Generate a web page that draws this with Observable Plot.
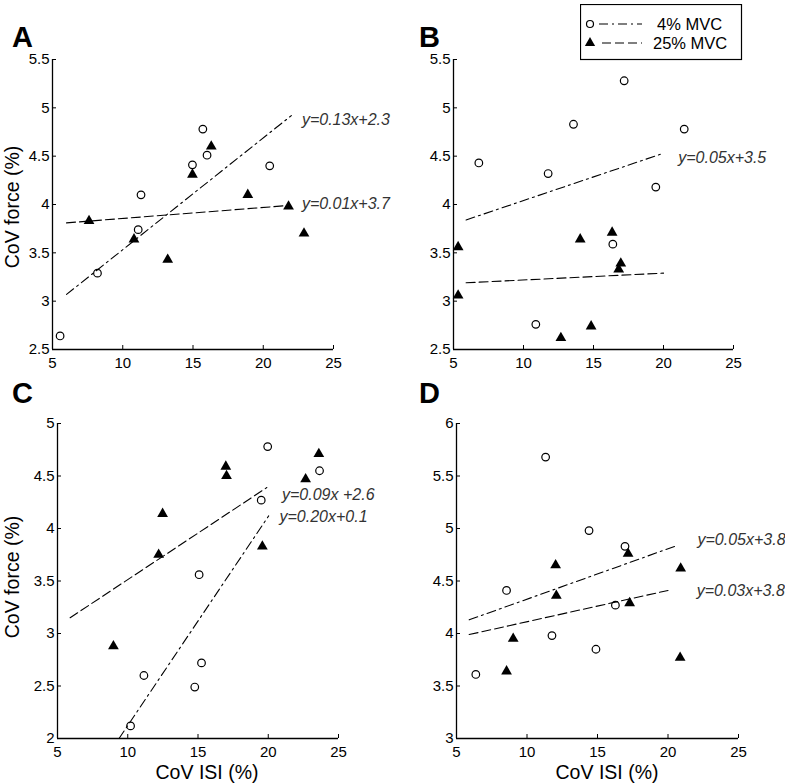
<!DOCTYPE html>
<html>
<head>
<meta charset="utf-8">
<script src="https://cdn.jsdelivr.net/npm/d3@7"></script>
<script src="https://cdn.jsdelivr.net/npm/@observablehq/plot@0.6"></script>
<style>
  body { margin: 0; background: #fff; }
  #fig { position: relative; width: 785px; height: 783px; font-family: "Liberation Sans", Arial, sans-serif; color: #000; overflow: hidden; }
  .panel { position: absolute; }
  .panel g[aria-label$="tick label"], .panel g[aria-label$="tick label"] text { font-size: 15px !important; font-family: "Liberation Sans", Arial, sans-serif !important; }
  .letter { position: absolute; font-weight: bold; font-size: 29px; line-height: 1; }
  .ylab, .xlab { position: absolute; font-size: 19.5px; white-space: nowrap; line-height: 1.15; }
  .ylab { transform: translate(-50%, -50%) rotate(-90deg); }
  .xlab { transform: translate(-50%, -50%); }
  #legend { position: absolute; left: 580px; top: 4px; }
</style>
</head>
<body>
<div id="fig"></div>
<script>
// ---------- data ----------
const seriesNames = ["4% MVC", "25% MVC"];
const panelLetters = ["A", "B", "C", "D"];
const xTicks = [5, 10, 15, 20, 25];
const yTicksAB = [2.5, 3, 3.5, 4, 4.5, 5, 5.5];
const yTicksC = [2, 2.5, 3, 3.5, 4, 4.5, 5];
const yTicksD = [3, 3.5, 4, 4.5, 5, 5.5, 6];
const yTitle = "CoV force (%)";
const xTitle = "CoV ISI (%)";

// Panel A
const A_mvc4_x = [5.54, 8.2, 11.1, 11.3, 14.96, 15.7, 16.0, 20.46];
const A_mvc4_y = [2.64, 3.29, 3.74, 4.10, 4.41, 4.78, 4.51, 4.40];
const A_mvc25_x = [7.6, 10.8, 13.2, 14.96, 16.3, 18.9, 21.8, 22.9];
const A_mvc25_y = [3.83, 3.64, 3.43, 4.31, 4.60, 4.10, 3.98, 3.70];
const A_fit4_x = [6, 22], A_fit4_y = [3.07, 4.92];
const A_fit25_x = [6, 21.8], A_fit25_y = [3.81, 3.99];
const A_eq_text = ["y=0.13x+2.3", "y=0.01x+3.7"];
const A_eq_x = [22.75, 22.75], A_eq_y = [4.88, 4.01];

// Panel B
const B_mvc4_x = [6.81, 11.76, 13.57, 17.19, 21.48, 19.45, 16.38, 10.88];
const B_mvc4_y = [4.43, 4.32, 4.83, 5.28, 4.78, 4.18, 3.59, 2.76];
const B_mvc25_x = [5.33, 5.33, 14.05, 16.33, 16.95, 16.8, 12.67, 14.83];
const B_mvc25_y = [3.56, 3.06, 3.64, 3.71, 3.39, 3.33, 2.62, 2.74];
const B_fit4_x = [5.9, 20], B_fit4_y = [3.84, 4.53];
const B_fit25_x = [5.9, 20], B_fit25_y = [3.19, 3.29];
const B_eq_text = ["y=0.05x+3.5"];
const B_eq_x = [21.05], B_eq_y = [4.48];

// Panel C
const C_mvc4_x = [19.96, 23.65, 19.5, 15.08, 15.25, 14.77, 11.15, 10.2];
const C_mvc4_y = [4.78, 4.55, 4.27, 3.56, 2.72, 2.49, 2.60, 2.12];
const C_mvc25_x = [8.98, 12.2, 12.48, 16.98, 17.03, 19.58, 22.66, 23.6];
const C_mvc25_y = [2.88, 3.75, 4.14, 4.59, 4.50, 3.83, 4.47, 4.71];
const C_fit4_x = [9.38, 20.03], C_fit4_y = [2.0, 4.12];
const C_fit25_x = [5.9, 19.9], C_fit25_y = [3.15, 4.39];
const C_eq_text = ["y=0.09x +2.6", "y=0.20x+0.1"];
const C_eq_x = [20.98, 20.8], C_eq_y = [4.32, 4.11];

// Panel D
const D_mvc4_x = [11.32, 14.4, 16.95, 8.55, 16.27, 11.77, 14.89, 6.37];
const D_mvc4_y = [5.68, 4.98, 4.83, 4.41, 4.27, 3.98, 3.85, 3.61];
const D_mvc25_x = [12.03, 17.17, 20.9, 12.08, 17.28, 9.02, 8.55, 20.86];
const D_mvc25_y = [4.65, 4.76, 4.62, 4.36, 4.29, 3.95, 3.64, 3.77];
const D_fit4_x = [5.9, 20.48], D_fit4_y = [4.13, 4.83];
const D_fit25_x = [5.9, 20], D_fit25_y = [3.99, 4.41];
const D_eq_text = ["y=0.05x+3.8", "y=0.03x+3.8"];
const D_eq_x = [22.09, 22.04], D_eq_y = [4.89, 4.41];

// ---------- drawing ----------
const zip = (xs, ys) => xs.map((x, i) => ({x, y: ys[i]}));
const DASHDOT = "9,4,2,4";
const DASHED = "9,4";
const fig = document.getElementById("fig");

function panel(cfg) {
  const {left, top, width, height, mt, mr, mb, ml, yTicks} = cfg;
  const innerW = width - ml - mr, innerH = height - mt - mb;
  const xDomain = [xTicks[0], xTicks[xTicks.length - 1]];
  const yDomain = [yTicks[0], yTicks[yTicks.length - 1]];
  const eqs = cfg.eqText.map((t, i) => ({text: t, x: cfg.eqX[i], y: cfg.eqY[i]}));
  const chart = Plot.plot({
    width, height,
    marginTop: mt, marginRight: mr, marginBottom: mb, marginLeft: ml,
    style: {fontFamily: "Liberation Sans, Arial, sans-serif", fontSize: "15px", color: "#000", background: "transparent", overflow: "visible"},
    x: {domain: xDomain},
    y: {domain: yDomain},
    marks: [
      Plot.axisX(xTicks, {tickSize: 0, tickPadding: 8, label: null, tickFormat: d => String(d), fill: "#000", fontSize: 15}),
      Plot.axisY(yTicks, {tickSize: 0, tickPadding: 3, label: null, tickFormat: d => String(d), fill: "#000", fontSize: 15}),
      Plot.tickX(xTicks, {x: d => d, insetTop: innerH - 4, stroke: "#000", strokeWidth: 1}),
      Plot.tickY(yTicks, {y: d => d, insetRight: innerW - 4, stroke: "#000", strokeWidth: 1}),
      Plot.ruleX([xDomain[0]], {stroke: "#000", strokeWidth: 1.3}),
      Plot.ruleY([yDomain[0]], {stroke: "#000", strokeWidth: 1.3}),
      Plot.line(zip(cfg.fit4x, cfg.fit4y), {x: "x", y: "y", stroke: "#000", strokeWidth: 1.1, strokeDasharray: DASHDOT}),
      Plot.line(zip(cfg.fit25x, cfg.fit25y), {x: "x", y: "y", stroke: "#000", strokeWidth: 1.1, strokeDasharray: DASHED}),
      Plot.dot(zip(cfg.m4x, cfg.m4y), {x: "x", y: "y", r: 3.8, stroke: "#000", fill: "none", strokeWidth: 1.2}),
      Plot.dot(zip(cfg.m25x, cfg.m25y), {x: "x", y: "y", symbol: "triangle", r: 4, fill: "#000", stroke: "none"}),
      Plot.text(eqs, {x: "x", y: "y", text: "text", textAnchor: "start", fontStyle: "italic", fontSize: 16, fill: "#333"})
    ]
  });
  chart.classList.add("panel");
  chart.style.left = left + "px";
  chart.style.top = top + "px";
  fig.appendChild(chart);
}

panel({left: 0, top: 0, width: 392, height: 380, mt: 59, mr: 59, mb: 31, ml: 52, yTicks: yTicksAB,
  m4x: A_mvc4_x, m4y: A_mvc4_y, m25x: A_mvc25_x, m25y: A_mvc25_y,
  fit4x: A_fit4_x, fit4y: A_fit4_y, fit25x: A_fit25_x, fit25y: A_fit25_y,
  eqText: A_eq_text, eqX: A_eq_x, eqY: A_eq_y});
panel({left: 392, top: 0, width: 393, height: 380, mt: 59, mr: 52, mb: 31, ml: 61, yTicks: yTicksAB,
  m4x: B_mvc4_x, m4y: B_mvc4_y, m25x: B_mvc25_x, m25y: B_mvc25_y,
  fit4x: B_fit4_x, fit4y: B_fit4_y, fit25x: B_fit25_x, fit25y: B_fit25_y,
  eqText: B_eq_text, eqX: B_eq_x, eqY: B_eq_y});
panel({left: 0, top: 390, width: 392, height: 393, mt: 33, mr: 54, mb: 45, ml: 57, yTicks: yTicksC,
  m4x: C_mvc4_x, m4y: C_mvc4_y, m25x: C_mvc25_x, m25y: C_mvc25_y,
  fit4x: C_fit4_x, fit4y: C_fit4_y, fit25x: C_fit25_x, fit25y: C_fit25_y,
  eqText: C_eq_text, eqX: C_eq_x, eqY: C_eq_y});
panel({left: 392, top: 390, width: 393, height: 393, mt: 33, mr: 47, mb: 45, ml: 64, yTicks: yTicksD,
  m4x: D_mvc4_x, m4y: D_mvc4_y, m25x: D_mvc25_x, m25y: D_mvc25_y,
  fit4x: D_fit4_x, fit4y: D_fit4_y, fit25x: D_fit25_x, fit25y: D_fit25_y,
  eqText: D_eq_text, eqX: D_eq_x, eqY: D_eq_y});

fig.querySelectorAll('g[aria-label$="tick label"]').forEach(g => {
  g.setAttribute("font-size", "15");
  g.style.fontSize = "15px";
});

// panel letters
const letterPos = [[12, 23], [419, 23], [12, 379], [419, 379]];
panelLetters.forEach((t, i) => {
  const d = document.createElement("div");
  d.className = "letter"; d.textContent = t;
  d.style.left = letterPos[i][0] + "px"; d.style.top = letterPos[i][1] + "px";
  fig.appendChild(d);
});

// axis titles
[[12, 207], [12, 577]].forEach(([x, y]) => {
  const d = document.createElement("div");
  d.className = "ylab"; d.textContent = yTitle;
  d.style.left = x + "px"; d.style.top = y + "px";
  fig.appendChild(d);
});
[[207, 772], [607, 772]].forEach(([x, y]) => {
  const d = document.createElement("div");
  d.className = "xlab"; d.textContent = xTitle;
  d.style.left = x + "px"; d.style.top = y + "px";
  fig.appendChild(d);
});

// legend
const leg = d3.create("svg").attr("id", "legend").attr("width", 163).attr("height", 57)
  .style("font-family", "Liberation Sans, Arial, sans-serif");
leg.append("rect").attr("x", 0.5).attr("y", 0.5).attr("width", 161).attr("height", 55)
  .attr("fill", "#fff").attr("stroke", "#000").attr("stroke-width", 1.2);
const rows = [
  {y: 20, dash: DASHDOT, x1: 19, tx: 77},
  {y: 39, dash: DASHED, x1: 22, tx: 73}
];
rows.forEach((r, i) => {
  leg.append("line").attr("x1", r.x1).attr("x2", 62).attr("y1", r.y).attr("y2", r.y)
    .attr("stroke", "#000").attr("stroke-width", 1.1).attr("stroke-dasharray", r.dash);
  if (i === 0) {
    leg.append("circle").attr("cx", 10).attr("cy", r.y).attr("r", 3.5)
      .attr("fill", "none").attr("stroke", "#000").attr("stroke-width", 1.2);
  } else {
    leg.append("path").attr("transform", `translate(10,${r.y})`)
      .attr("d", d3.symbol(d3.symbolTriangle, Math.PI * 3.8 * 3.8)()).attr("fill", "#000");
  }
  leg.append("text").attr("x", r.tx).attr("y", r.y).attr("dy", "0.35em")
    .attr("font-size", 16.5).attr("fill", "#000").text(seriesNames[i]);
});
const legNode = leg.node();
legNode.style.position = "absolute";
fig.appendChild(legNode);
</script>
</body>
</html>
